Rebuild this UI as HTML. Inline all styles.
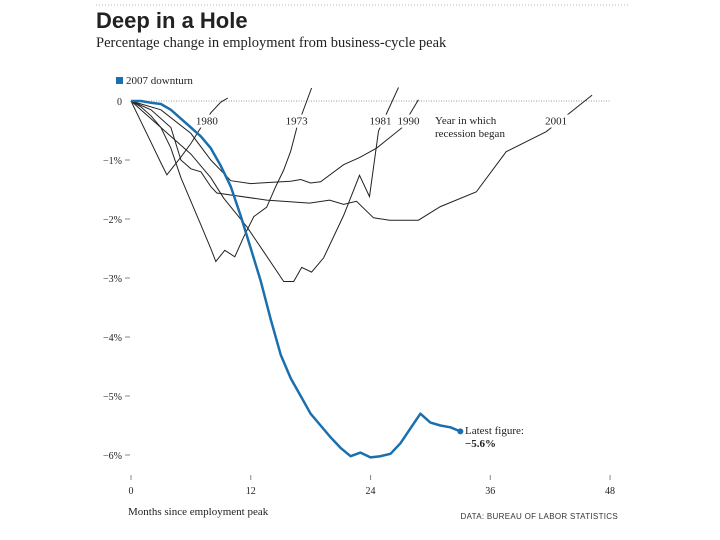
<!DOCTYPE html>
<html><head><meta charset="utf-8"><style>
body{margin:0;background:#fff;width:720px;height:540px;overflow:hidden}
svg{display:block}
.s{font-family:"Liberation Serif",serif;fill:#222}
</style></head><body>
<svg width="720" height="540" xmlns="http://www.w3.org/2000/svg">
<line x1="96" y1="5" x2="630" y2="5" stroke="#bbb" stroke-dasharray="1,2"/>
<text x="96" y="28" font-family="Liberation Sans,sans-serif" font-weight="bold" font-size="22" fill="#222">Deep in a Hole</text>
<text x="96" y="47" class="s" font-size="14.5">Percentage change in employment from business-cycle peak</text>
<rect x="116" y="77" width="7" height="7" fill="#1a6fae"/>
<text x="126" y="84" class="s" font-size="11">2007 downturn</text>
<g id="axes"></g>
<g id="lines"></g>
<text x="435" y="124" class="s" font-size="11">Year in which</text>
<text x="435" y="137" class="s" font-size="11">recession began</text>
<text x="465" y="434" class="s" font-size="11">Latest figure:</text>
<text x="465" y="447" class="s" font-size="11" font-weight="bold">−5.6%</text>
<text x="128" y="515" class="s" font-size="11">Months since employment peak</text>
<text x="618" y="519" text-anchor="end" font-family="Liberation Sans,sans-serif" font-size="8" fill="#333" letter-spacing="0.3">DATA: BUREAU OF LABOR STATISTICS</text>
</svg>
<script>
const xTicks=[0,12,24,36,48];
const yTicks=[0,-1,-2,-3,-4,-5,-6];
const yTickLabels=["0","−1%","−2%","−3%","−4%","−5%","−6%"];
const series2007=[0,0,-0.03,-0.05,-0.15,-0.3,-0.45,-0.6,-0.8,-1.1,-1.45,-1.95,-2.5,-3.05,-3.7,-4.3,-4.7,-5.0,-5.3,-5.5,-5.7,-5.88,-6.02,-5.96,-6.04,-6.02,-5.98,-5.8,-5.55,-5.3,-5.45,-5.5,-5.53,-5.6];
const s1980=[[0,0],[1,-0.35],[2,-0.7],[3,-1.05],[3.6,-1.25],[5,-0.95],[6,-0.72],[7,-0.45],[8,-0.2],[9,-0.02],[9.7,0.05]];
const s1973=[[0,0],[1,-0.1],[2,-0.25],[3,-0.45],[4,-0.8],[5,-1.3],[6,-1.7],[7,-2.1],[8,-2.5],[8.5,-2.72],[9.4,-2.53],[10.4,-2.64],[11.3,-2.3],[12.3,-1.96],[13.6,-1.8],[14.5,-1.45],[15.3,-1.17],[16,-0.85],[16.6,-0.46],[18.1,0.22]];
const s1981=[[0,0],[2,-0.3],[4,-0.6],[6,-0.9],[8,-1.3],[9.3,-1.65],[11.6,-2.13],[13.4,-2.58],[15.3,-3.06],[16.3,-3.06],[17.1,-2.82],[18.1,-2.9],[19.3,-2.66],[21.3,-1.94],[22.9,-1.26],[23.9,-1.62],[24.8,-0.51],[26.8,0.23]];
const s1990=[[0,0],[3,-0.15],[6,-0.55],[8,-1.0],[10,-1.35],[12,-1.4],[14,-1.38],[16,-1.36],[17,-1.33],[18,-1.39],[19,-1.37],[21.3,-1.08],[22.9,-0.96],[24.6,-0.8],[27.1,-0.46],[28.8,0.02]];
const s2001=[[0,0],[2,-0.15],[4,-0.45],[5,-1.0],[6,-1.15],[7,-1.2],[8,-1.45],[8.6,-1.56],[13.6,-1.68],[17.9,-1.73],[19.9,-1.68],[21.3,-1.75],[22.6,-1.7],[24.3,-1.98],[25.9,-2.02],[28.8,-2.02],[31,-1.79],[34.6,-1.54],[37.6,-0.86],[41.6,-0.52],[46.2,0.1]];
const yearLabels=[["1980",7.6,-0.4],["1973",16.6,-0.4],["1981",25,-0.4],["1990",27.8,-0.4],["2001",42.6,-0.4]];
const NS="http://www.w3.org/2000/svg";
const X=m=>131+m*9.98, Y=p=>101-p*59;
function mk(t,a,parent){const e=document.createElementNS(NS,t);for(const k in a)e.setAttribute(k,a[k]);parent.appendChild(e);return e;}
const ax=document.getElementById('axes'), ln=document.getElementById('lines');
let z=mk('line',{x1:X(0),y1:Y(0),x2:X(48),y2:Y(0),stroke:'#999','stroke-dasharray':'1,1.5'},ax);


yTicks.forEach((v,i)=>{
 if(i>0){const t=mk('line',{x1:X(0)-6,y1:Y(v),x2:X(0)-1,y2:Y(v),stroke:'#888'},ax);
 
 }
 const l=mk('text',{x:X(0)-9,y:Y(v)+4,'text-anchor':'end','font-size':10,class:'s'},ax);
 l.textContent=yTickLabels[i];
 
 
});
xTicks.forEach(v=>{
 const t=mk('line',{x1:X(v),y1:475,x2:X(v),y2:480,stroke:'#888'},ax);
 
 
 const l=mk('text',{x:X(v),y:494,'text-anchor':'middle','font-size':10,class:'s'},ax);
 l.textContent=v;
 
 
});
const pts=a=>a.map(p=>X(p[0]).toFixed(1)+','+Y(p[1]).toFixed(1)).join(' ');
[[s1980,'line-1980'],[s1973,'line-1973'],[s1981,'line-1981'],[s1990,'line-1990'],[s2001,'line-2001']].forEach(([s,n])=>{
 const p=mk('polyline',{points:pts(s),fill:'none',stroke:'#222','stroke-width':1},ln);
 
 
});
yearLabels.forEach(([t,m,v])=>{
 const bg=mk('rect',{x:X(m)-13,y:Y(v)-10,width:26,height:13,fill:'#fff'},ln);
 
 
 const l=mk('text',{x:X(m),y:Y(v),'text-anchor':'middle','font-size':11,class:'s'},ln);
 l.textContent=t;
 
 
});
const b=mk('polyline',{points:pts(series2007.map((v,i)=>[i,v])),fill:'none',stroke:'#1a6fae','stroke-width':2.5,'stroke-linejoin':'round'},ln);


const last=series2007.length-1;
const d=mk('circle',{cx:X(last),cy:Y(series2007[last]),r:3,fill:'#1a6fae'},ln);


</script>
</body></html>
